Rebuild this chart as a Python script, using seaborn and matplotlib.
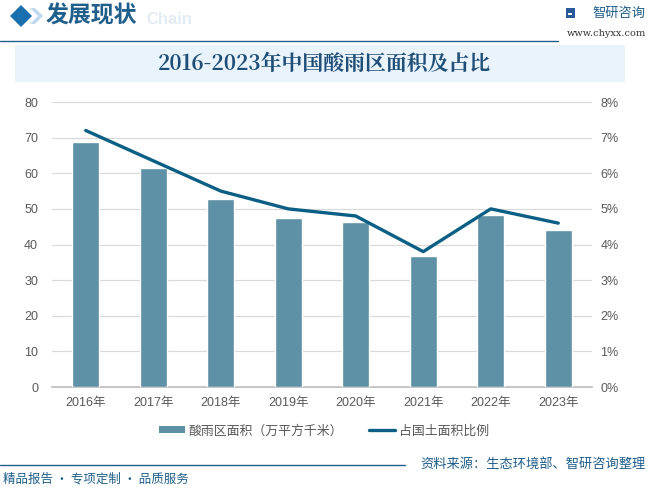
import matplotlib
matplotlib.use('Agg')
import matplotlib.pyplot as plt
import seaborn as sns
import pandas as pd
from matplotlib.patches import Rectangle, Polygon
from matplotlib.lines import Line2D
from matplotlib.ticker import FixedLocator, PercentFormatter

years = ["2016年", "2017年", "2018年", "2019年", "2020年", "2021年", "2022年", "2023年"]
area = [68.9, 61.6, 52.9, 47.3, 46.4, 36.9, 48.4, 44.2]        # 万平方千米
ratio = [7.2, 6.35, 5.5, 5.0, 4.8, 3.8, 5.0, 4.6]             # %

bar_name = "酸雨区面积（万平方千米）"
line_name = "占国土面积比例"

BAR_C = "#5E90A6"
LINE_C = "#0B5F85"
TXT = "#595959"
BLUE = "#1F5F8B"

sns.set_theme(style="white")
plt.rcParams['font.family'] = ['Liberation Sans', 'Noto Sans CJK SC', 'DejaVu Sans']
CJK = ['Noto Sans CJK SC', 'DejaVu Sans']

df = pd.DataFrame({"year": years, "area": area, "ratio": ratio})

fig = plt.figure(figsize=(6.48, 4.88), dpi=100)
fig.patch.set_facecolor("white")

def fx(px):
    return px / 648

def fy(py):
    return 1 - py / 488

# header
fig.patches.append(Polygon([[fx(10), fy(16)], [fx(21), fy(5)], [fx(32), fy(16)], [fx(21), fy(27)]],
                           closed=True, transform=fig.transFigure, facecolor="#1A6FAE", edgecolor="none"))
fig.patches.append(Polygon([[fx(30), fy(8)], [fx(35), fy(8)], [fx(43), fy(16)], [fx(35), fy(24)], [fx(30), fy(24)],
                            [fx(38), fy(16)]],
                           closed=True, transform=fig.transFigure, facecolor="#BFD9EE", edgecolor="none"))
fig.text(fx(46), fy(16), "发展现状", family=CJK, fontsize=16.5, fontweight="bold", color=BLUE, va="center")
fig.text(fx(146), fy(19), "Chain", fontsize=12, fontweight="bold", color="#E3ECF4", va="center")
fig.lines.append(Line2D([0, fx(558)], [fy(41), fy(41)], transform=fig.transFigure, color=BLUE, lw=1))
fig.patches.append(Rectangle((fx(566), fy(18)), fx(9), 10/488, transform=fig.transFigure,
                             facecolor="#2A5A9A", edgecolor="none"))
fig.patches.append(Rectangle((fx(568), fy(15)), fx(4), 2/488, transform=fig.transFigure,
                             facecolor="white", edgecolor="none"))
fig.text(fx(592), fy(13), "智研咨询", family=CJK, fontsize=9.5, color=BLUE, va="center")
fig.text(fx(646), fy(34), "www.chyxx.com", family=['DejaVu Serif'], fontsize=7, color="#333333",
         va="center", ha="right")

# title band
fig.patches.append(Rectangle((fx(15), fy(82)), fx(610), 37/488, transform=fig.transFigure,
                             facecolor="#E8F3FB", edgecolor="none"))
fig.text(0.5, fy(64), "2016-2023年中国酸雨区面积及占比", family=['Noto Serif CJK SC', 'Noto Sans CJK SC', 'DejaVu Sans'],
         fontsize=15, fontweight="bold", color="#1F4E79", ha="center", va="center")

# chart
ax = fig.add_axes([fx(52), fy(387), fx(540), 285/488])
sns.barplot(data=df, x="year", y="area", color=BAR_C, width=0.4, saturation=1, ax=ax, zorder=3)
ax.set_ylim(0, 80)
ax.set_xlim(-0.5, len(years) - 0.5)
ax.set_yticks(range(0, 81, 10))
ax.grid(axis="y", color="#D9D9D9", lw=0.9, zorder=0)
ax.set_axisbelow(True)
ax.set_xlabel("")
ax.set_ylabel("")
for s in ["top", "right", "left"]:
    ax.spines[s].set_visible(False)
ax.spines["bottom"].set_color("#BFBFBF")
ax.tick_params(axis="x", length=0, colors=TXT, labelsize=9, pad=7)
ax.tick_params(axis="y", length=0, colors=TXT, labelsize=9, pad=10)
ax.xaxis.set_minor_locator(FixedLocator([i - 0.5 for i in range(len(years) + 1)]))
ax.tick_params(axis="x", which="minor", length=4, color="#BFBFBF")

ax2 = ax.twinx()
sns.pointplot(data=df, x="year", y="ratio", color=LINE_C, markers="", linewidth=2.4, ax=ax2)
ax2.set_xlim(-0.5, len(years) - 0.5)
ax2.set_ylim(0, 8)
ax2.set_yticks(range(0, 9))
ax2.yaxis.set_major_formatter(PercentFormatter(decimals=0))
ax2.set_ylabel("")
for s in ["top", "right", "left", "bottom"]:
    ax2.spines[s].set_visible(False)
ax2.tick_params(axis="y", length=0, colors=TXT, labelsize=9, pad=6)

handles = [Rectangle((0, 0), 1, 1, facecolor=BAR_C, edgecolor="none"),
           Line2D([0], [0], color=LINE_C, lw=2.4)]
fig.legend(handles, [bar_name, line_name], loc="center", bbox_to_anchor=(fx(324), fy(431)), ncol=2,
           frameon=False, labelcolor=TXT, handlelength=2.0, handleheight=0.45,
           columnspacing=2.0, handletextpad=0.3, prop={'family': CJK, 'size': 9.3})

# footer
fig.lines.append(Line2D([0, fx(405)], [fy(465), fy(465)], transform=fig.transFigure, color=BLUE, lw=1))
fig.text(fx(646), fy(464), "资料来源：生态环境部、智研咨询整理", family=CJK, fontsize=9.5, color=BLUE,
         ha="right", va="center")
fig.text(fx(3), fy(479), "精品报告 · 专项定制 · 品质服务", family=CJK, fontsize=9, color=BLUE,
         ha="left", va="center")

fig.savefig("out.png", dpi=100)
